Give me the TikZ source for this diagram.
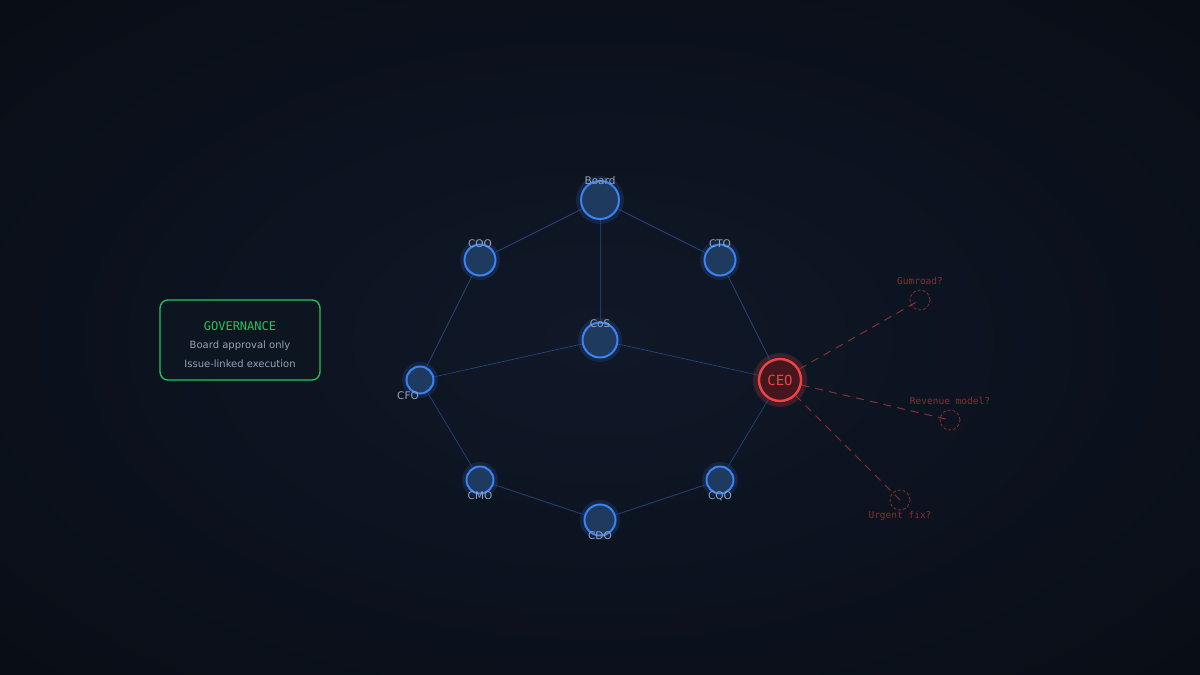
\documentclass[tikz,border=0pt]{standalone}
\usepackage{fontspec}
\setmainfont{DejaVu Sans}
\newfontfamily\monof{DejaVu Sans Mono}
\newfontfamily\sansf{DejaVu Sans}
\definecolor{bgout}{HTML}{080C14}
\definecolor{bgin}{HTML}{101828}
\definecolor{nodefill}{HTML}{1E3A5F}
\definecolor{nodeline}{HTML}{3B82F6}
\definecolor{edgecol}{HTML}{24467A}
\definecolor{labcol}{HTML}{94A3B8}
\definecolor{ceofill}{HTML}{45161D}
\definecolor{ceoline}{HTML}{EF4444}
\definecolor{ghost}{HTML}{8B2E2E}
\definecolor{ghostline}{HTML}{A33737}
\definecolor{govgreen}{HTML}{22C55E}
\definecolor{govfill}{HTML}{0D1520}
\begin{document}
\begin{tikzpicture}[x=1pt,y=-1pt,
  agent/.style={circle,draw=nodeline,line width=2pt,fill=nodefill,inner sep=0pt},
  lab/.style={font=\sansf\fontsize{10.5}{12}\selectfont,text=labcol,inner sep=0pt},
  edge/.style={draw=edgecol,line width=0.7pt},
  ghostc/.style={circle,draw=ghost,line width=0.8pt,minimum size=20pt,inner sep=0pt,dash pattern=on 3pt off 2pt},
  ghostlab/.style={font=\monof\fontsize{9.5}{11}\selectfont,text=ghost,inner sep=0pt},
  ghostedge/.style={draw=ghostline,line width=1pt,dash pattern=on 8pt off 6pt,opacity=0.8}]
\useasboundingbox (0,0) rectangle (1200,675);
\clip (0,0) rectangle (1200,675);
\fill[bgout] (0,0) rectangle (1200,675);
\shade[inner color=bgin,outer color=bgout] (-300,-180) rectangle (1500,860);

% halos
\foreach \p/\r in {{(600,200)}/24,{(480,260)}/20,{(720,260)}/20,{(600,340)}/22,{(420,380)}/18,{(480,480)}/18,{(720,480)}/18,{(600,520)}/20}
  \fill[nodeline,opacity=0.15] \p circle (\r);
\fill[ceoline,opacity=0.2] (780,380) circle (27);

% nodes
\node[agent,minimum size=38pt] (board) at (600,200) {};
\node[agent,minimum size=31pt] (coo) at (480,260) {};
\node[agent,minimum size=31pt] (cto) at (720,260) {};
\node[agent,minimum size=35pt] (cos) at (600,340) {};
\node[agent,minimum size=27pt] (cfo) at (420,380) {};
\node[agent,minimum size=27pt] (cmo) at (480,480) {};
\node[agent,minimum size=27pt] (cqo) at (720,480) {};
\node[agent,minimum size=31pt] (cdo) at (600,520) {};
\node[circle,draw=ceoline,line width=2.4pt,fill=ceofill,minimum size=42pt,inner sep=0pt,
  font=\monof\fontsize{14}{16}\selectfont,text=ceoline] (ceo) at (780,380) {CEO};

% edges
\draw[edge] (board) -- (coo);
\draw[edge] (board) -- (cto);
\draw[edge,line width=0.5pt,opacity=0.8] (board) -- (cos);
\draw[edge] (coo) -- (cfo);
\draw[edge] (cto) -- (ceo);
\draw[edge] (cos) -- (cfo);
\draw[edge] (cos) -- (ceo);
\draw[edge] (cfo) -- (cmo);
\draw[edge] (cmo) -- (cdo);
\draw[edge] (cdo) -- (cqo);
\draw[edge] (cqo) -- (ceo);

% ghosts
\node[ghostc] (g1) at (920,300) {};
\node[ghostc] (g2) at (950,420) {};
\node[ghostc] (g3) at (900,500) {};
\draw[ghostedge] (ceo) -- (g1.center);
\draw[ghostedge] (ceo) -- (g2.center);
\draw[ghostedge] (ceo) -- (g3.center);
\node[ghostlab] (g1l) at (920,281) {Gumroad?};
\node[ghostlab] (g2l) at (950,401) {Revenue model?};
\node[ghostlab] (g3l) at (900,516) {Urgent fix?};

% labels
\node[lab] (lboard) at (600,181) {Board};
\node[lab] (lcoo) at (480,244) {COO};
\node[lab] (lcto) at (720,244) {CTO};
\node[lab] (lcos) at (600,324) {CoS};
\node[lab] (lcfo) at (408,396) {CFO};
\node[lab] (lcmo) at (480,496) {CMO};
\node[lab] (lcqo) at (720,496) {CQO};
\node[lab] (lcdo) at (600,536) {CDO};

% governance box
\draw[govgreen,line width=1.3pt,fill=govfill,rounded corners=8pt] (160,300) rectangle (320,380);
\node[font=\monof\fontsize{12}{14}\selectfont,text=govgreen,inner sep=0pt] (gov) at (240,326) {GOVERNANCE};
\node[font=\sansf\fontsize{10}{12}\selectfont,text=labcol,inner sep=0pt] (gov1) at (240,346) {Board approval only};
\node[font=\sansf\fontsize{10}{12}\selectfont,text=labcol,inner sep=0pt] (gov2) at (240,364) {Issue-linked execution};
\end{tikzpicture}
\end{document}
